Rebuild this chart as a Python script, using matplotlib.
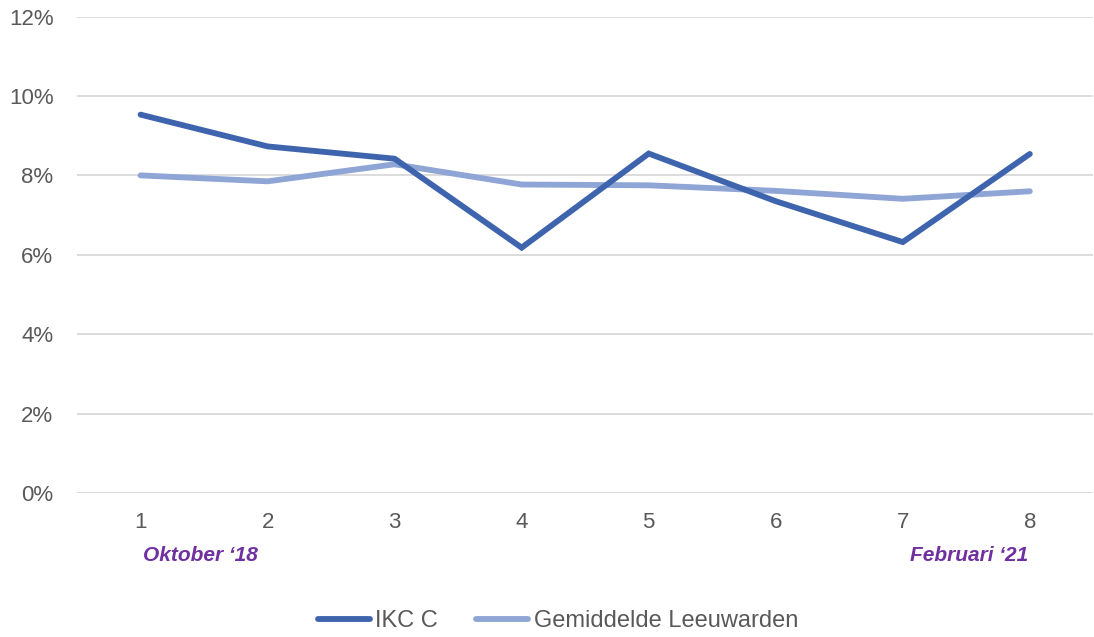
import matplotlib.pyplot as plt
from matplotlib.ticker import FuncFormatter

# Data (percentages)
categories = ['1', '2', '3', '4', '5', '6', '7', '8']
ikc_c = [9.53, 8.73, 8.42, 6.18, 8.55, 7.35, 6.32, 8.54]
gemiddelde = [8.00, 7.85, 8.28, 7.77, 7.75, 7.61, 7.41, 7.60]
series_names = ['IKC C', 'Gemiddelde Leeuwarden']
start_label = 'Oktober \u201818'
end_label = 'Februari \u201821'

plt.rcParams['font.family'] = ['Liberation Sans', 'DejaVu Sans']

fig = plt.figure(figsize=(10.94, 6.37), dpi=100)
ax = fig.add_axes([0.0704, 0.226, 0.929, 0.748])

x = list(range(len(categories)))
ax.plot(x, ikc_c, color='#3E64AD', lw=4.2, solid_capstyle='round',
        solid_joinstyle='miter', label=series_names[0], zorder=3)
ax.plot(x, gemiddelde, color='#8FA5D6', lw=4.2, solid_capstyle='round',
        solid_joinstyle='miter', label=series_names[1], zorder=2)

ax.set_xlim(-0.5, len(categories) - 0.5)
ax.set_ylim(0, 12)
ax.set_yticks(range(0, 13, 2))
ax.yaxis.set_major_formatter(FuncFormatter(lambda v, p: f'{v:.0f}%'))
ax.set_xticks(x)
ax.set_xticklabels(categories)
ax.tick_params(length=0, labelsize=16, labelcolor='#595959')
ax.tick_params(axis='x', pad=14)
ax.tick_params(axis='y', pad=17)

ax.grid(axis='y', color='#D9D9D9', lw=1.3)
ax.set_axisbelow(True)
for s in ax.spines.values():
    s.set_visible(False)

# Period labels under the first and last category
ax.text(0.47, -0.131, start_label, transform=ax.get_xaxis_transform(),
        ha='center', va='center', fontsize=15, fontstyle='italic',
        fontweight='bold', color='#7030A0')
ax.text(6.52, -0.131, end_label, transform=ax.get_xaxis_transform(),
        ha='center', va='center', fontsize=15, fontstyle='italic',
        fontweight='bold', color='#7030A0')

leg = fig.legend(loc='center', bbox_to_anchor=(0.51, 0.025), ncol=2,
                 frameon=False, fontsize=17, handlelength=2.2,
                 handletextpad=0.25, columnspacing=1.6)
for t in leg.get_texts():
    t.set_color('#595959')

fig.savefig('out.png', dpi=100)
